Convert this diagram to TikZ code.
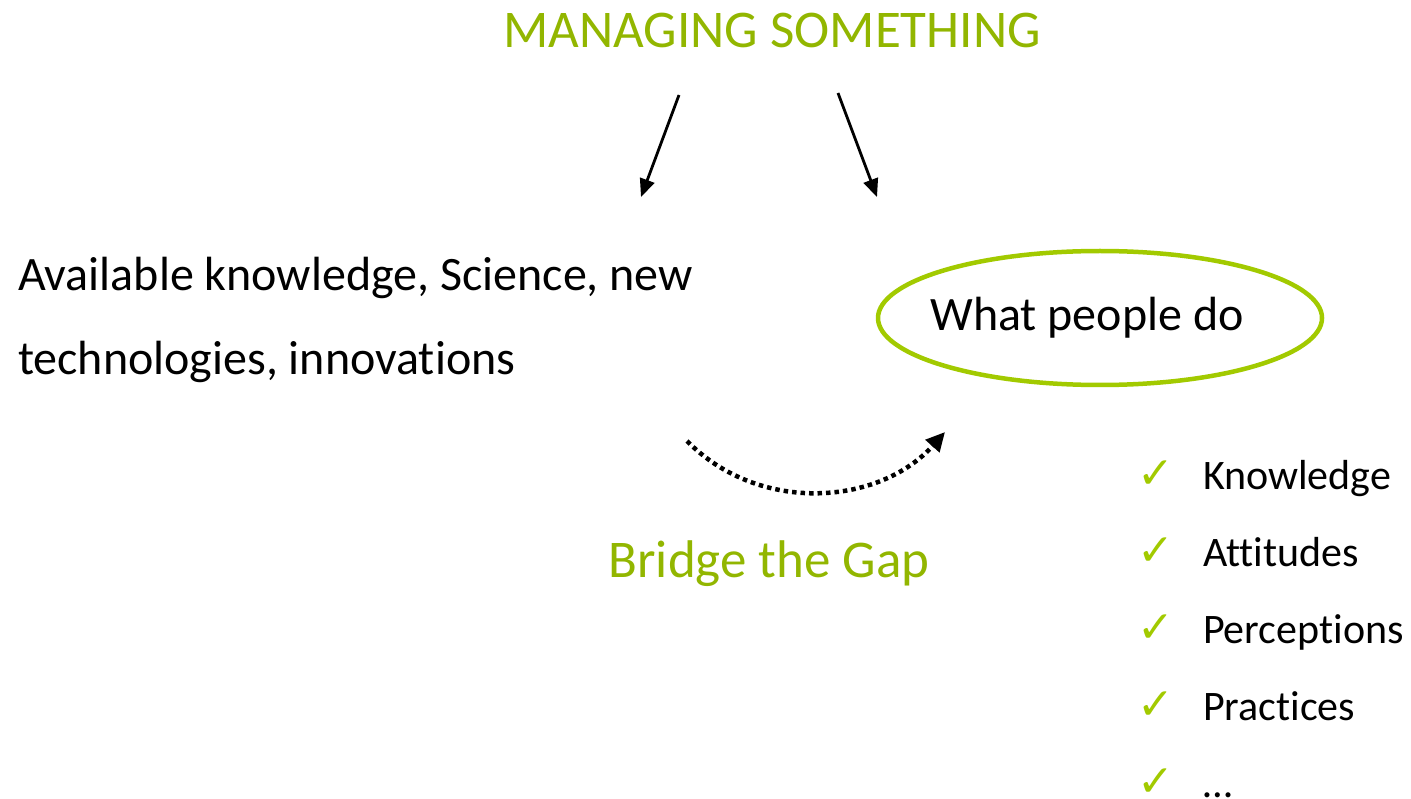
\documentclass[tikz,border=0pt]{standalone}
\usepackage{fontspec}
\setmainfont{Carlito}[Ligatures=NoCommon]
\newfontfamily\tickfont{DejaVu Sans}
\usetikzlibrary{
  positioning,
  arrows.meta,
  shapes.geometric
}
\definecolor{leafgreen}{RGB}{146,182,0}
\definecolor{limegreen}{RGB}{162,202,0}

\begin{document}
\begin{tikzpicture}[x=1pt, y=-1pt, node distance=77pt and 29pt,
  every node/.style={inner sep=0pt, outer sep=0pt},
  heading/.style={text=leafgreen, font=\fontsize{53}{64}\selectfont},
  body/.style={font=\fontsize{48}{85}\selectfont, align=left},
  item/.style={font=\fontsize{42}{50}\selectfont, anchor=base west},
  tick/.style={text=limegreen, font=\tickfont\fontsize{44}{52}\selectfont, anchor=base east, yshift=14pt},
  goal/.style={draw=limegreen, line width=4.5pt, ellipse, minimum width=444pt, minimum height=134pt},
  arrow/.style={-{Triangle[length=18pt, width=15pt]}, line width=2.8pt},
  bridge/.style={-{Triangle[length=19pt, width=18pt]}, line width=4.5pt, dash pattern=on 4.5pt off 4pt}
]
\useasboundingbox (0,0) rectangle (1411,799);

% Nodes
\node[heading, anchor=base] (manage) at (772,48) {MANAGING SOMETHING};
\node[body, anchor=base west] (avail) at (18,375) {Available knowledge, Science, new\\ technologies, innovations};
\node[goal] (people) at (1100,318) {};
\node[body] (doing) at (1087,318) {What people do};
\node[heading, anchor=base] (gap) at (769,577) {Bridge the Gap};

% Check list
\node[item] (know) at (1203,489) {Knowledge};
\node[item, below=of know.base west, anchor=base west] (att) {Attitudes};
\node[item, below=of att.base west, anchor=base west] (perc) {Perceptions};
\node[item, below=of perc.base west, anchor=base west] (prac) {Practices};
\node[item, below=of prac.base west, anchor=base west] (more) {\dots};
\node[tick, left=of know.base west] (t1) {✓};
\node[tick, left=of att.base west] (t2) {✓};
\node[tick, left=of perc.base west] (t3) {✓};
\node[tick, left=of prac.base west] (t4) {✓};
\node[tick, left=of more.base west] (t5) {✓};

% Arrows
\coordinate (lstart) at (679,95);
\coordinate (lend) at (641,197);
\coordinate (rstart) at (838,93);
\coordinate (rend) at (877,197);
\coordinate (gapstart) at (687,441);
\coordinate (gapend) at (945,432);
\draw[arrow] (lstart) -- (lend);
\draw[arrow] (rstart) -- (rend);
\draw[bridge] (gapstart) .. controls (760,515) and (880,505) .. (gapend);

\end{tikzpicture}
\end{document}
